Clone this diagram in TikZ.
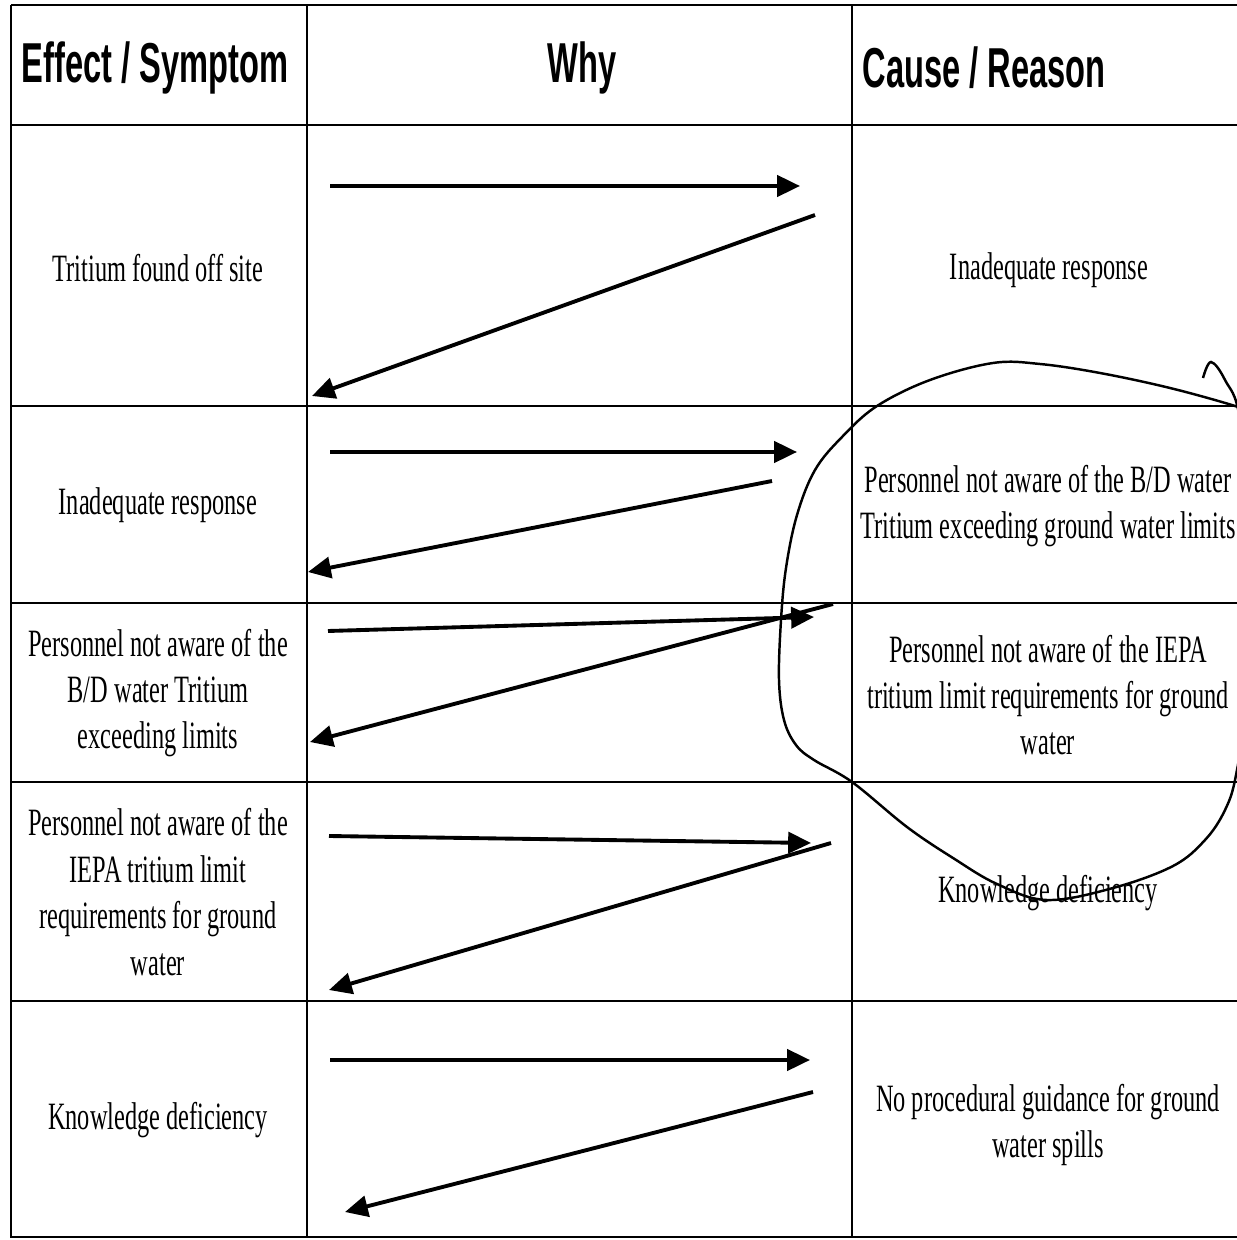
\documentclass[tikz,border=0pt]{standalone}
\usepackage{fontspec}
\setmainfont[FakeStretch=0.63]{Liberation Serif}
\newfontfamily\headfont[FakeStretch=0.58]{Liberation Sans}
\usetikzlibrary{arrows.meta, calc, positioning}
\tikzstyle{grid}=[line width=0.7pt]
\tikzstyle{why}=[line width=1.1pt, -{Triangle[length=6.5pt,width=6pt]}]
\tikzstyle{head}=[font=\headfont\bfseries\fontsize{16}{18}\selectfont, inner sep=0pt]
\tikzstyle{cell}=[align=center, font=\fontsize{11}{13.2}\selectfont, inner sep=0pt]
\tikzstyle{loop}=[line width=0.7pt]

\begin{document}
\begin{tikzpicture}[x=0.01cm, y=-0.01cm]
\useasboundingbox (0,0) rectangle (1237,1240);
\clip (0,0) rectangle (1237,1240);
\draw[grid] (11,5) -- (1237,5) (11,5) -- (11,1237) -- (1237,1237);
\draw[grid] (307,5) -- (307,1237) (852,5) -- (852,1237);
\foreach \y in {125,406,603,782,1001} \draw[grid] (11,\y) -- (1237,\y);

\node[head] (h1) at (155,68) {Effect / Symptom};
\node[head] (h2) at (582,68) {Why};
\node[head] (h3) at (984,68) {Cause / Reason};

\node[cell] (e1) at (158,268) {Tritium found off site};
\node[cell] (e2) at (158,505) {Inadequate response};
\node[cell] (e3) at (158,693) {Personnel not aware of the\\B/D water Tritium\\exceeding limits};
\node[cell] (e4) at (158,892) {Personnel not aware of the\\IEPA tritium limit\\requirements for ground\\water};
\node[cell] (e5) at (158,1120) {Knowledge deficiency};

\node[cell] (c1) at (1049,270) {Inadequate response};
\node[cell] (c2) at (1048,506) {Personnel not aware of the B/D water\\Tritium exceeding ground water limits};
\node[cell] (c3) at (1048,695) {Personnel not aware of the IEPA\\tritium limit requirements for ground\\water};
\node[cell] (c4) at (1048,893) {Knowledge deficiency};
\node[cell] (c5) at (1048,1125) {No procedural guidance for ground\\water spills};

\coordinate (a1) at (330,186); \coordinate (b1) at (800,186); \coordinate (r1) at (815,215); \coordinate (l1) at (312,396);
\coordinate (a2) at (330,452); \coordinate (b2) at (797,452); \coordinate (r2) at (772,481); \coordinate (l2) at (308,572);
\coordinate (a3) at (328,631); \coordinate (b3) at (814,617); \coordinate (r3) at (833,604); \coordinate (l3) at (310,742);
\coordinate (a4) at (329,836); \coordinate (b4) at (811,843); \coordinate (r4) at (831,843); \coordinate (l4) at (329,990);
\coordinate (a5) at (330,1060); \coordinate (b5) at (810,1060); \coordinate (r5) at (813,1092); \coordinate (l5) at (345,1212);
\foreach \i in {1,...,5} \draw[why] (a\i) -- (b\i);
\foreach \i in {1,...,5} \draw[why] (r\i) -- (l\i);

\draw[loop] plot[smooth, tension=0.6] coordinates {(1203,378) (1211,362) (1225,380) (1240,420) (1250,550) (1246,700) (1236,775) (1225,810) (1205,840) (1173,866) (1113,888) (1047,900) (997,884) (953,858) (907,827) (852,782) (814,760) (796,745) (784,720) (779,680) (781,620) (786,568) (797,515) (815,470) (842,437) (877,406) (930,380) (993,363) (1040,364) (1100,373) (1170,388) (1235,406) (1245,412)};
\end{tikzpicture}
\end{document}
